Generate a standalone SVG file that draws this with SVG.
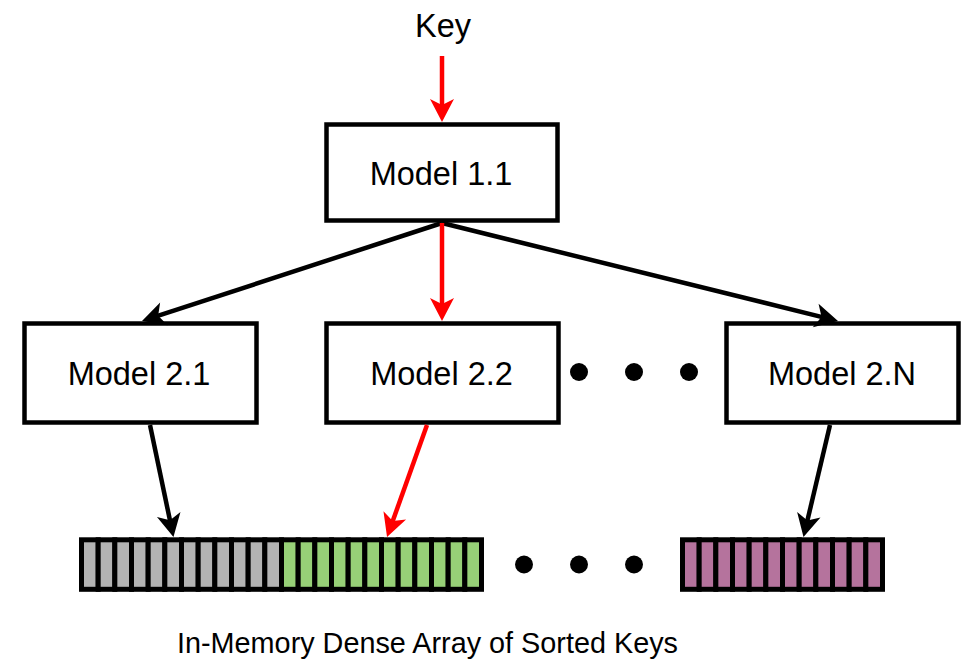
<svg xmlns="http://www.w3.org/2000/svg" width="968" height="660" viewBox="0 0 968 660">
  <style>
    .box { fill: #ffffff; stroke: #000000; stroke-width: 4.5; }
    .label { font-family: "Liberation Sans", Arial, sans-serif; font-size: 32.5px; fill: #000000; text-anchor: middle; }
    .caption { font-size: 30px; }
    .edge { fill: none; stroke-width: 4.5; }
    .edge.black { stroke: #000000; marker-end: url(#head-black); }
    .edge.red { stroke: #ff0000; marker-end: url(#head-red); }
    .cell { stroke: #000000; stroke-width: 5; }
    .gray { fill: #b3b3b3; }
    .green { fill: #97d077; }
    .pink { fill: #b5739d; }
    .dot { fill: #000000; }
  </style>
  <defs>
    <marker id="head-black" markerUnits="userSpaceOnUse" viewBox="-16 -14 28 28" markerWidth="28" markerHeight="28" refX="0" refY="0" orient="auto">
      <path d="M10,0 L-13,-12 L-7,0 L-13,12 Z" fill="#000000"/>
    </marker>
    <marker id="head-red" markerUnits="userSpaceOnUse" viewBox="-16 -14 28 28" markerWidth="28" markerHeight="28" refX="0" refY="0" orient="auto">
      <path d="M10,0 L-13,-12 L-7,0 L-13,12 Z" fill="#ff0000"/>
    </marker>
    <!-- one strip of 12 memory cells -->
    <g id="strip">
      <rect x="0" y="0" width="16.67" height="49.5"/>
      <rect x="16.67" y="0" width="16.67" height="49.5"/>
      <rect x="33.33" y="0" width="16.67" height="49.5"/>
      <rect x="50" y="0" width="16.67" height="49.5"/>
      <rect x="66.67" y="0" width="16.67" height="49.5"/>
      <rect x="83.33" y="0" width="16.67" height="49.5"/>
      <rect x="100" y="0" width="16.67" height="49.5"/>
      <rect x="116.67" y="0" width="16.67" height="49.5"/>
      <rect x="133.33" y="0" width="16.67" height="49.5"/>
      <rect x="150" y="0" width="16.67" height="49.5"/>
      <rect x="166.67" y="0" width="16.67" height="49.5"/>
      <rect x="183.33" y="0" width="16.67" height="49.5"/>
    </g>
  </defs>

  <rect width="968" height="660" fill="#ffffff"/>

  <text id="key" class="label" x="443" y="37">Key</text>

  <g id="model-1-1">
    <rect class="box" x="326.5" y="124.5" width="231" height="96"/>
    <text class="label" x="441" y="185">Model 1.1</text>
  </g>
  <g id="model-2-1">
    <rect class="box" x="24.5" y="323.5" width="232" height="99"/>
    <text class="label" x="139" y="385">Model 2.1</text>
  </g>
  <g id="model-2-2">
    <rect class="box" x="326.5" y="323.5" width="232" height="99"/>
    <text class="label" x="441.5" y="385">Model 2.2</text>
  </g>
  <g id="model-2-n">
    <rect class="box" x="726.5" y="323.5" width="232" height="99"/>
    <text class="label" x="842" y="385">Model 2.N</text>
  </g>

  <g id="ellipsis-models">
    <circle class="dot" cx="579" cy="372" r="9"/>
    <circle class="dot" cx="634" cy="372" r="9"/>
    <circle class="dot" cx="689" cy="372" r="9"/>
  </g>

  <g id="array">
    <use href="#strip" class="cell gray" x="81.5" y="539.8"/>
    <use href="#strip" class="cell green" x="281.5" y="539.8"/>
    <use href="#strip" class="cell pink" x="682.5" y="539.8"/>
    <g id="ellipsis-array">
      <circle class="dot" cx="524" cy="564.5" r="9"/>
      <circle class="dot" cx="579" cy="564.5" r="9"/>
      <circle class="dot" cx="634" cy="564.5" r="9"/>
    </g>
  </g>

  <text id="array-label" class="label caption" x="427.5" y="653" textLength="501" lengthAdjust="spacingAndGlyphs">In-Memory Dense Array of Sorted Keys</text>

  <g id="connectors">
    <line class="edge red" x1="442" y1="56" x2="442" y2="112"/>
    <line class="edge black" x1="442" y1="223" x2="151.5" y2="317.9"/>
    <line class="edge black" x1="442" y1="223" x2="828.3" y2="318.6"/>
    <line class="edge red" x1="442" y1="223" x2="442" y2="311"/>
    <line class="edge black" x1="150" y1="425" x2="171.4" y2="527.2"/>
    <line class="edge red" x1="427" y1="425" x2="390.4" y2="527.6"/>
    <line class="edge black" x1="830" y1="425" x2="805.8" y2="527.3"/>
  </g>
</svg>
